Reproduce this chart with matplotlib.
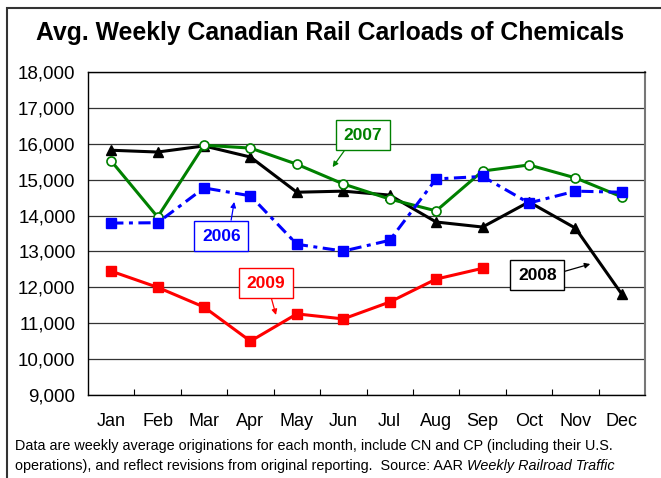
import numpy as np
import matplotlib
matplotlib.use("Agg")
import matplotlib.pyplot as plt
from matplotlib.patches import Rectangle
from matplotlib.ticker import FuncFormatter

plt.rcParams['font.family'] = ['Liberation Sans', 'DejaVu Sans']

months = ["Jan", "Feb", "Mar", "Apr", "May", "Jun",
          "Jul", "Aug", "Sep", "Oct", "Nov", "Dec"]

# weekly average carloads
y2006 = [13790, 13800, 14770, 14550, 13200, 13010,
         13310, 15020, 15090, 14350, 14680, 14650]
y2007 = [15520, 13960, 15960, 15880, 15430, 14880,
         14460, 14130, 15240, 15410, 15050, 14520]
y2008 = [15820, 15770, 15940, 15630, 14650, 14680,
         14570, 13820, 13680, 14380, 13650, 11810]
y2009 = [12450, 12000, 11450, 10500, 11260, 11120,
         11590, 12230, 12530]

yTicks = np.arange(9000, 18001, 1000)

titleText = "Avg. Weekly Canadian Rail Carloads of Chemicals"
noteLine1 = "Data are weekly average originations for each month, include CN and CP (including their U.S."
noteLine2 = "operations), and reflect revisions from original reporting.  Source: AAR "
noteItalic = "Weekly Railroad Traffic"

green = "#008000"
blue = "#0000FF"
red = "#FF0000"

fig = plt.figure(figsize=(6.61, 4.78), dpi=100)
ax = fig.add_axes([88 / 661, 83 / 478, 557 / 661, 323 / 478])

### outer frame (only top and left edges are in view)
fig.patches.append(Rectangle((7 / 661, -0.1), 1.2, 1 - 8 / 478 + 0.1,
                             transform=fig.transFigure, fill=False,
                             edgecolor="#333333", linewidth=1.5))

x = np.arange(len(months))

ax.plot(x, y2008, color="black", lw=2.2, marker="^", ms=7, zorder=3)
ax.plot(x, y2007, color=green, lw=2.2, marker="o", ms=6.5,
        markerfacecolor="white", markeredgecolor=green, markeredgewidth=1.2, zorder=4)
ax.plot(x, y2006, color=blue, lw=2.2, marker="s", ms=6.5,
        linestyle=(0, (4, 1.8, 1.3, 1.8)), zorder=5)
ax.plot(x[:len(y2009)], y2009, color=red, lw=2.2, marker="s", ms=6.5, zorder=5)

ax.set_xlim(-0.5, 11.5)
ax.set_ylim(9000, 18000)
ax.set_yticks(yTicks)
ax.yaxis.set_major_formatter(FuncFormatter(lambda v, p: "{:,.0f}".format(v)))
ax.set_xticks(x)
ax.set_xticklabels(months)
ax.set_xticks(np.arange(0.5, 11, 1), minor=True)
ax.tick_params(axis="x", which="major", length=0, pad=13, labelsize=13)
ax.tick_params(axis="x", which="minor", direction="in", length=4.5, width=0.8)
ax.tick_params(axis="y", length=0, pad=9, labelsize=13.5)
ax.grid(axis="y", color="#333333", lw=0.9, zorder=1)
for s in ["left", "top", "bottom"]:
    ax.spines[s].set_linewidth(1.0)
ax.spines["right"].set_color("#777777")
ax.spines["right"].set_linewidth(1.5)

### labels with arrows
def label(txt, col, xy, xytext, rel):
    ax.annotate(txt, xy=xy, xytext=xytext, ha="center", va="center",
                fontsize=12.5, fontweight="bold", color=col, zorder=6,
                bbox=dict(boxstyle="square,pad=0.45", fc="white", ec=col, lw=1.0),
                arrowprops=dict(arrowstyle="-|>", color=col, lw=0.9,
                                mutation_scale=8, relpos=rel, shrinkA=0, shrinkB=0))

label("2007", green, (4.77, 15350), (5.42, 16240), (0.17, 0))
label("2006", blue, (2.65, 14380), (2.37, 13430), (0.72, 1))
label("2009", red, (3.55, 11230), (3.33, 12120), (0.59, 0))
label("2008", "black", (10.32, 12650), (9.18, 12340), (1, 0.6))

fig.text(0.5, 1 - 33 / 478, titleText, ha="center", va="center",
         fontsize=17.8, fontweight="bold")
fig.text(15 / 661, 1 - 446 / 478, noteLine1, ha="left", va="center", fontsize=10.4)
t = fig.text(15 / 661, 1 - 466 / 478, noteLine2, ha="left", va="center", fontsize=10.4)
fig.canvas.draw()
bb = t.get_window_extent()
fig.text(bb.x1 / 661, 1 - 466 / 478, noteItalic,
         ha="left", va="center", fontsize=10.4, style="italic")

fig.savefig("out.png", dpi=100)
